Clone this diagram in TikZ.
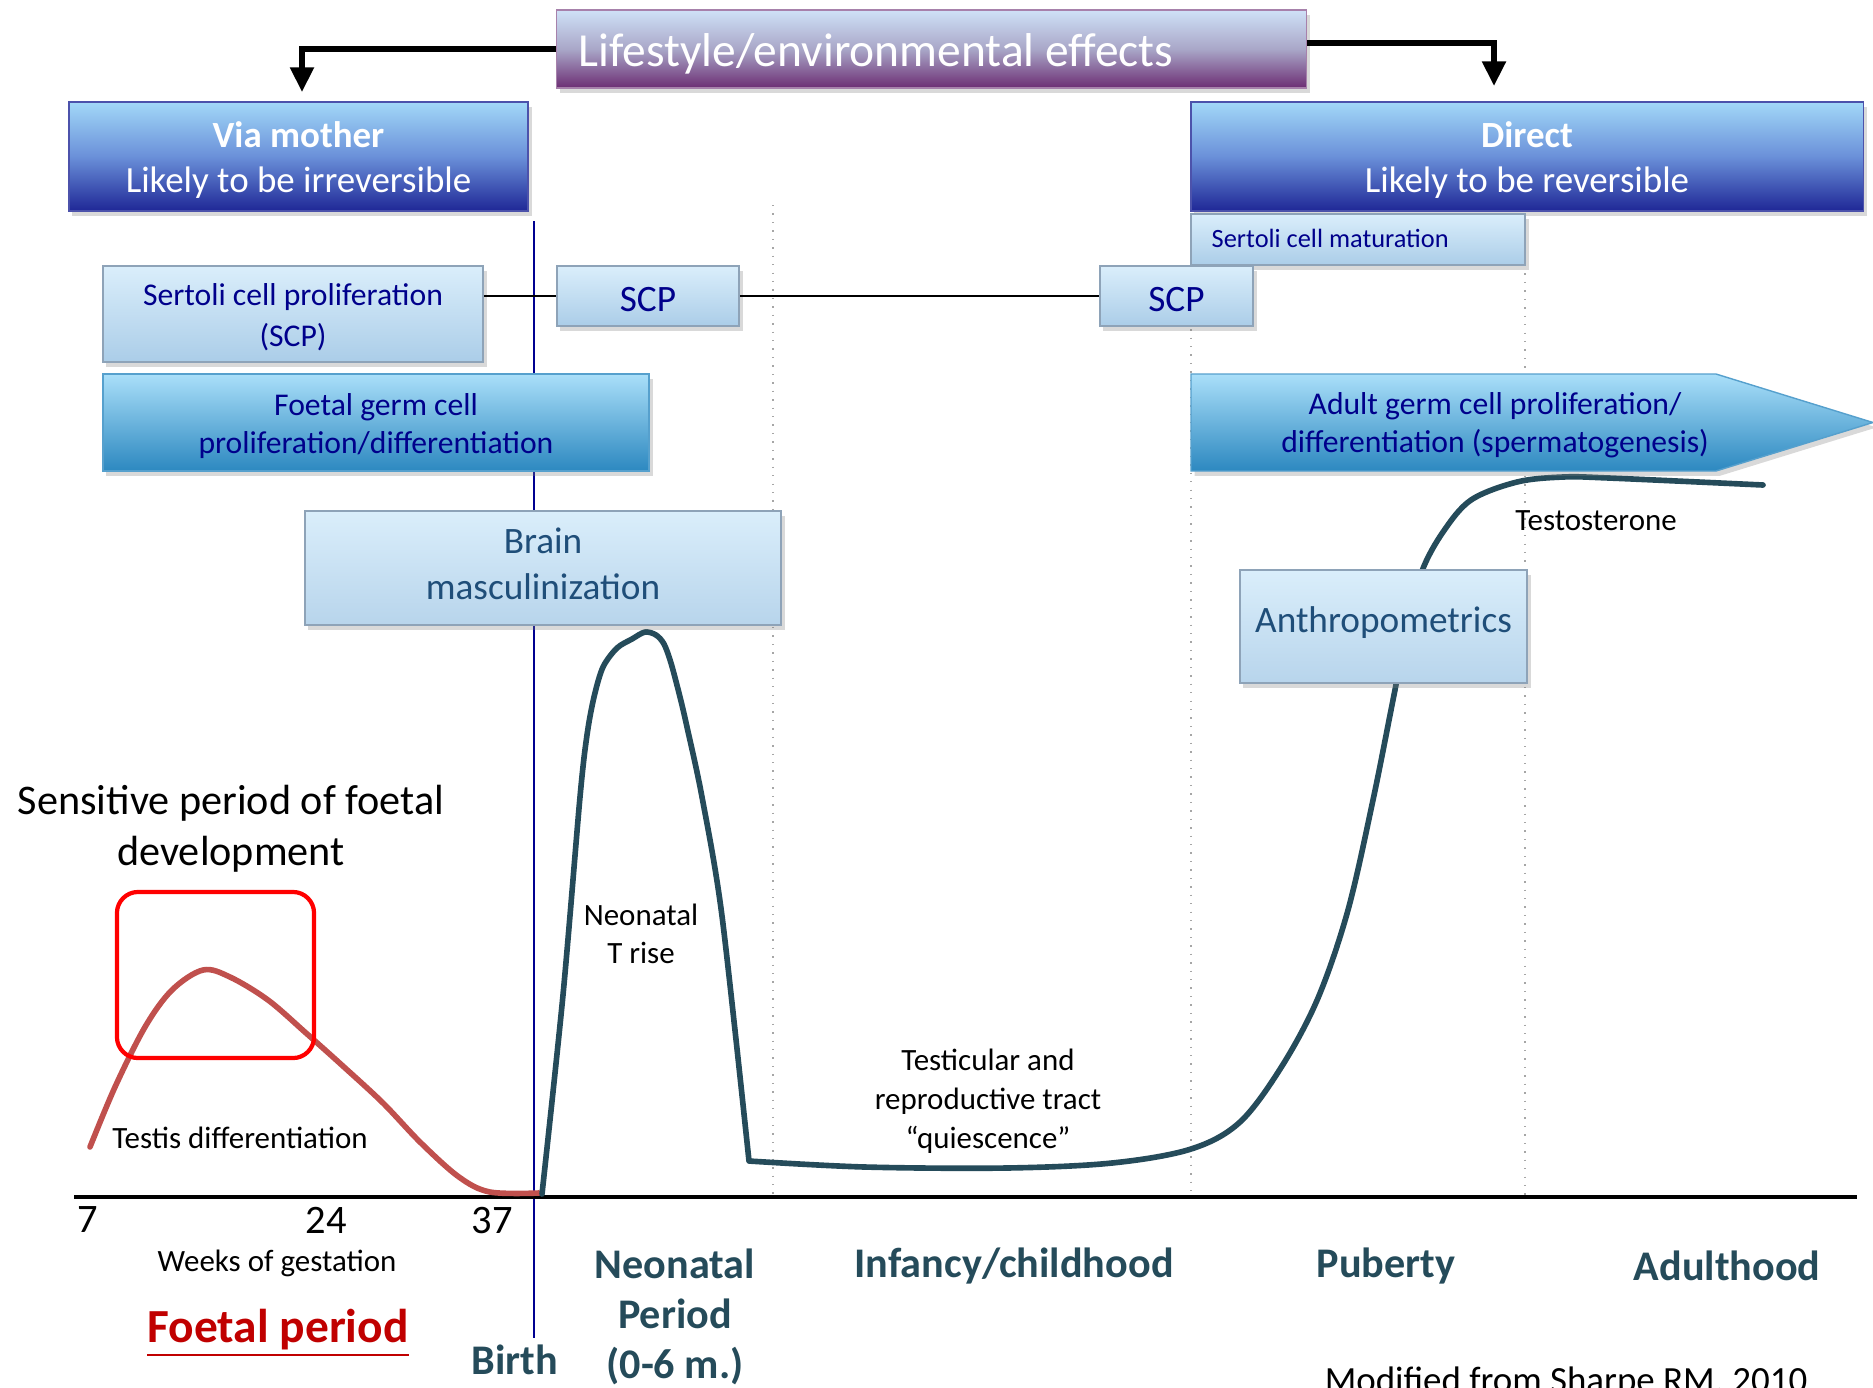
\documentclass[tikz,border=0pt]{standalone}
\usepackage{fontspec}
\setmainfont{Carlito}
\usetikzlibrary{arrows.meta,shadows}
\definecolor{titletop}{HTML}{CFE1F7}
\definecolor{titlemid}{HTML}{A9A7C8}
\definecolor{titlebot}{HTML}{6C2D73}
\definecolor{deeptop}{HTML}{A2D8F8}
\definecolor{deepmid}{HTML}{6A90D9}
\definecolor{deepbot}{HTML}{1F2796}
\definecolor{paletop}{HTML}{DAEEFB}
\definecolor{palebot}{HTML}{ABCDE8}
\definecolor{seatop}{HTML}{AADFF9}
\definecolor{seabot}{HTML}{2C88C0}
\definecolor{boxline}{HTML}{8EA3B8}
\definecolor{navytext}{HTML}{00008B}
\definecolor{slatetext}{HTML}{1F4E79}
\definecolor{tcol}{HTML}{254B5A}
\definecolor{fcol}{HTML}{C0504D}
\definecolor{foetalred}{HTML}{C00000}
\definecolor{birthblue}{HTML}{000090}

\begin{document}
\begin{tikzpicture}[
  x=0.01cm,y=-0.01cm,
  >={Triangle[length=7pt,width=6.5pt]},
  shadowed/.style={drop shadow={shadow xshift=1pt,shadow yshift=-1.4pt,opacity=0.3}},
  banner/.style={shadowed,draw=titlebot!60,top color=titletop,bottom color=titlebot,middle color=titlemid},
  route/.style={shadowed,draw=deepbot!80,top color=deeptop,bottom color=deepbot,middle color=deepmid},
  pale/.style={shadowed,draw=boxline,top color=paletop,bottom color=palebot},
  sea/.style={shadowed,draw=seabot!80,top color=seatop,bottom color=seabot},
  soft/.style={shadowed,draw=boxline,top color=paletop,bottom color=palebot!85},
  routetext/.style={text=white,align=center,font=\fontsize{10.5}{12.8}\selectfont},
  boxtext/.style={text=navytext,align=center,font=\fontsize{9}{11.6}\selectfont},
  softtext/.style={text=slatetext,align=center,font=\fontsize{10.6}{13}\selectfont},
  note/.style={font=\fontsize{8.8}{10.8}\selectfont,align=center},
  period/.style={font=\bfseries\fontsize{12}{14.2}\selectfont,text=tcol,align=center},
  tick/.style={font=\fontsize{11.5}{13}\selectfont},
  grid/.style={dotted,black!35,line width=0.4pt},
  hormone/.style={tcol,line width=1.6pt,line join=round,line cap=round},
  foetal/.style={fcol,line width=1.6pt,line cap=round},
  conn/.style={->,line width=1.6pt},
]
\useasboundingbox (0,0) rectangle (1873,1387);

% ---------- time grid ----------
\draw[grid] (773,205) -- (773,1196);
\draw[grid] (1191,211) -- (1191,1196);
\draw[grid] (1525,265) -- (1525,1196);
\draw[birthblue,line width=0.6pt] (534,221) -- (534,1338);
\draw[line width=1.1pt] (74,1197) -- (1857,1197);

% ---------- hormone curves ----------
\draw[foetal] plot[smooth,tension=0.55] coordinates {(90,1147) (115,1087) (145,1027) (172,990)
  (203,970) (230,977) (268,1000) (306,1033) (344,1067) (383,1103) (421,1143) (459,1177) (490,1192) (539,1193)};
\draw[hormone] plot[smooth,tension=0.5] coordinates {(542,1194) (563,995) (580,797) (587,735) (594,697)
  (603,667) (617,648) (632,639) (645,632) (656,635) (664,644) (671,663) (680,697) (687,727) (702,797)
  (722,916) (749,1161)}
  -- plot[smooth,tension=0.55] coordinates {(749,1161) (865,1167) (1006,1168) (1112,1163) (1191,1149)
  (1240,1122) (1282,1066) (1318,998) (1348,910) (1373,800) (1392,705) (1408,625) (1422,571) (1443,532)
  (1471,500) (1517,482) (1563,477) (1609,478) (1763,485)};

% ---------- top: where the exposure acts ----------
\node[banner,minimum width=7.49cm,minimum height=0.78cm] (title) at (931.5,49) {};
\node[anchor=west,text=white,font=\fontsize{13.5}{16}\selectfont,inner sep=0pt] (titletext) at (578,54)
  {Lifestyle/environmental effects};
\node[route,minimum width=4.59cm,minimum height=1.09cm] (mother) at (298.5,156.5) {};
\node[routetext] (mothertext) at (298.5,160) {\textbf{Via mother}\\Likely to be irreversible};
\node[route,minimum width=6.72cm,minimum height=1.09cm] (direct) at (1527,156.5) {};
\node[routetext] (directtext) at (1527,160) {\textbf{Direct}\\Likely to be reversible};
\coordinate (ltip) at (302,92);
\coordinate (rtip) at (1494,86);
\draw[conn] (title.west) -| (ltip);
\draw[conn] ([yshift=1.7pt]title.east) -| (rtip);

% ---------- processes ----------
\node[pale,minimum width=3.34cm,minimum height=0.51cm] (scm) at (1358,239.5) {};
\node[boxtext,anchor=west,inner sep=0pt,font=\fontsize{7.5}{9}\selectfont] (scmtext) at (1211,238.5)
  {Sertoli cell maturation};
\node[pale,minimum width=3.8cm,minimum height=0.96cm] (scp) at (293,314) {};
\node[boxtext] (scptext) at (293,317.5) {Sertoli cell proliferation\\(SCP)};
\node[pale,minimum width=1.82cm,minimum height=0.6cm] (scpa) at (648,296) {};
\node[boxtext,font=\fontsize{10.6}{12}\selectfont] (scpatext) at (648,299.5) {SCP};
\node[pale,minimum width=1.53cm,minimum height=0.6cm] (scpb) at (1176.5,296) {};
\node[boxtext,font=\fontsize{10.6}{12}\selectfont] (scpbtext) at (1176.5,299.5) {SCP};
\draw[line width=0.6pt] (scpa.west -| scp.east) -- (scpa.west);
\draw[line width=0.6pt] (scpa.east) -- (scpb.west);
\node[sea,minimum width=5.46cm,minimum height=0.97cm] (fgc) at (376,422.5) {};
\node[boxtext,font=\fontsize{9}{10.8}\selectfont] (fgctext) at (376,426)
  {Foetal germ cell\\proliferation/differentiation};
\path[sea] (1191,374) -- (1716,374) -- (1873,422.5) -- (1716,471) -- (1191,471) -- cycle;
\node[boxtext,font=\fontsize{9}{10.8}\selectfont] (adult) at (1495,425)
  {Adult germ cell proliferation/\\differentiation (spermatogenesis)};
\node[soft,minimum width=4.76cm,minimum height=1.14cm] (brain) at (543,568) {};
\node[softtext] (braintext) at (543,564) {Brain\\masculinization};
\node[soft,minimum width=2.87cm,minimum height=1.13cm] (anthro) at (1383.5,626.5) {};
\node[softtext] (anthrotext) at (1383.5,623) {Anthropometrics};

% ---------- curve labels ----------
\node[align=center,font=\fontsize{12}{14.5}\selectfont] (sens) at (231,829)
  {Sensitive period of foetal\\development};
\node[draw=red,line width=1.2pt,rounded corners=6pt,minimum width=1.97cm,minimum height=1.66cm] (window)
  at (215.5,975) {};
\node[note] (testis) at (240,1138) {Testis differentiation};
\node[note] (trise) at (641,934) {Neonatal\\T rise};
\node[note,font=\fontsize{8.8}{11.1}\selectfont] (quiet) at (988,1101) {Testicular and\\reproductive tract\\“quiescence”};
\node[note] (testo) at (1596,521) {Testosterone};

% ---------- axis labels ----------
\node[tick] (w7) at (88,1220) {7};
\node[tick] (w24) at (326,1220) {24};
\node[tick] (w37) at (492,1220) {37};
\node[note] (weeks) at (277,1263) {Weeks of gestation};
\node[font=\bfseries\fontsize{13.5}{16}\selectfont,text=foetalred] (foetal) at (278,1333) {\underline{Foetal period}};
\node[period] (birth) at (515,1360) {Birth};
\node[period] (neo) at (675,1317) {Neonatal\\Period\\(0-6 m.)};
\node[period] (infancy) at (1014,1266) {Infancy/childhood};
\node[period] (puberty) at (1386,1266) {Puberty};
\node[period] (adulthood) at (1727,1266) {Adulthood};
\node[anchor=base,font=\fontsize{10.5}{12}\selectfont] (source) at (1566,1392) {Modified from Sharpe RM, 2010};
\end{tikzpicture}
\end{document}
